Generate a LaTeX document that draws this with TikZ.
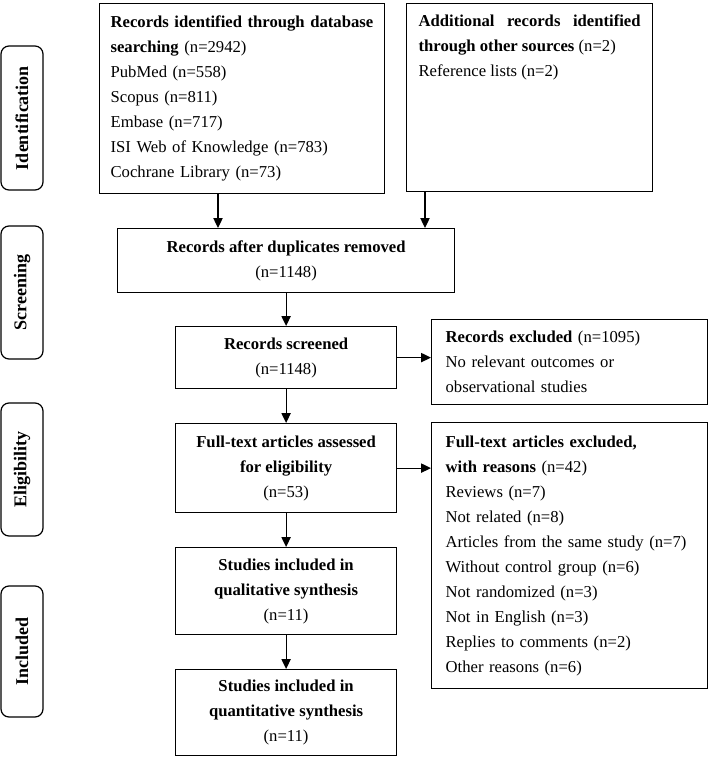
\documentclass[tikz,border=0pt]{standalone}
\usepackage{fontspec}
\setmainfont{Liberation Serif}
\usetikzlibrary{arrows.meta}
\begin{document}
\begin{tikzpicture}[x = 0.75pt, y = -0.75pt,
    box/.style = {draw, line width = 0.9pt, inner ysep = 0pt, anchor = north west,
      font = \fontsize{12.5}{18.75}\selectfont},
    stage/.style = {draw, line width = 0.9pt, rounded corners = 6pt, rotate = 90,
      minimum height = 31.5pt, inner sep = 0pt, font = \fontsize{13.5}{16}\selectfont\bfseries},
    arr/.style = {line width = 0.9pt, -{Triangle[length = 7.5pt, width = 7pt]}}]
  \useasboundingbox (0, 0) rectangle (709, 757);
  \node [stage, minimum width = 108pt] (ident) at (22, 118) {Identification};
  \node [stage, minimum width = 99.75pt] (scr) at (22, 292.5) {Screening};
  \node [stage, minimum width = 99.75pt] (elig) at (22, 469.5) {Eligibility};
  \node [stage, minimum width = 98.25pt] (incl) at (22, 651.5) {Included};
  \node [box, text width = 197.25pt, inner xsep = 8.25pt, minimum height = 142.5pt, align = left] (db) at (99, 3)
    {\textbf{Records identified through database}\\\textbf{searching} (n=2942)\\PubMed (n=558)\\Scopus (n=811)\\Embase (n=717)\\ISI Web of Knowledge (n=783)\\Cochrane Library (n=73)};
  \node [box, text width = 166.5pt, inner xsep = 9pt, minimum height = 141pt, align = justify, text depth = 115pt] (other) at (406, 3)
    {\textbf{Additional records identified through other sources} (n=2)\\Reference lists (n=2)};
  \node [box, minimum width = 252.75pt, minimum height = 48pt, align = center] (dup) at (117, 228)
    {\textbf{Records after duplicates removed}\\(n=1148)};
  \node [box, minimum width = 165.75pt, minimum height = 46.5pt, align = center] (screen) at (175, 326)
    {\textbf{Records screened}\\(n=1148)};
  \node [box, text width = 186pt, inner xsep = 10.5pt, minimum height = 63.75pt, align = left] (excl) at (431, 319)
    {\textbf{Records excluded} (n=1095)\\No relevant outcomes or\\observational studies};
  \node [box, minimum width = 165.75pt, minimum height = 66.75pt, align = center] (full) at (175, 423)
    {\textbf{Full-text articles assessed}\\\textbf{for eligibility}\\(n=53)};
  \node [box, text width = 186pt, inner xsep = 10.5pt, minimum height = 199.5pt, align = left] (reasons) at (431, 422)
    {\textbf{Full-text articles excluded,}\\\textbf{with reasons} (n=42)\\Reviews (n=7)\\Not related (n=8)\\Articles from the same study (n=7)\\Without control group (n=6)\\Not randomized (n=3)\\Not in English (n=3)\\Replies to comments (n=2)\\Other reasons (n=6)};
  \node [box, minimum width = 165.75pt, minimum height = 65.25pt, align = center] (qual) at (175, 547)
    {\textbf{Studies included in}\\\textbf{qualitative synthesis}\\(n=11)};
  \node [box, minimum width = 165.75pt, minimum height = 64.5pt, align = center] (quant) at (175, 669)
    {\textbf{Studies included in}\\\textbf{quantitative synthesis}\\(n=11)};
  \draw [arr] (db.south -| 218, 0) -- (dup.north -| 218, 0);
  \draw [arr] (other.south -| 425, 0) -- (dup.north -| 425, 0);
  \draw [arr] (dup.south) -- (screen.north);
  \draw [arr] (screen.east) -- (screen.east -| excl.west);
  \draw [arr] (screen.south) -- (full.north);
  \draw [arr] (full.east) -- (full.east -| reasons.west);
  \draw [arr] (full.south) -- (qual.north);
  \draw [arr] (qual.south) -- (quant.north);
\end{tikzpicture}
\end{document}
